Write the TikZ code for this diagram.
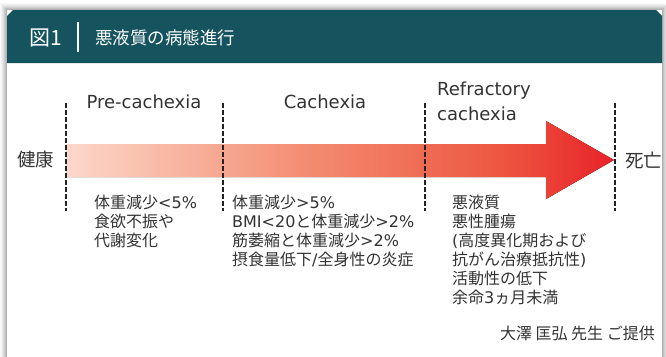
\documentclass[tikz,border=0pt]{standalone}
\usepackage{fontspec}
\setmainfont{Noto Sans CJK JP}
\newfontfamily\latfont{DejaVu Sans}
\newcommand\latx[1]{{\latfont #1}}
\definecolor{teal}{HTML}{15535F}
\definecolor{txt}{HTML}{333333}
\definecolor{dash}{HTML}{222222}
\pgfdeclarehorizontalshading{arrowshade}{100bp}{
  color(0bp)=({rgb,255:red,252;green,216;blue,202});
  color(25bp)=({rgb,255:red,252;green,216;blue,202});
  color(47bp)=({rgb,255:red,243;green,140;blue,112});
  color(65bp)=({rgb,255:red,237;green,85;blue,64});
  color(75bp)=({rgb,255:red,232;green,34;blue,40});
  color(100bp)=({rgb,255:red,232;green,34;blue,40})}
\begin{document}
\begin{tikzpicture}[x=1pt,y=-1pt,
  divider/.style={draw=dash,line width=2.8pt,dash pattern=on 4.5pt off 2.5pt},
  label/.style={text=txt,font=\fontsize{18.5}{20}\selectfont,inner sep=0pt},
  latlabel/.style={text=txt,font=\latfont\fontsize{18}{20}\selectfont,inner sep=0pt},
  body/.style={text=txt,font=\fontsize{16}{19}\selectfont,align=left,anchor=north west,inner sep=0pt},
  head/.style={text=white,inner sep=0pt}]
\useasboundingbox (0,0) rectangle (666,356);
\fill[white] (0,0) rectangle (666,356);
% soft shadow of the card
\foreach \i/\o in {7/0.02,6/0.03,5/0.04,4/0.05,3/0.06,2/0.07,1/0.08}{
  \fill[black,opacity=\o] (7-\i,10-\i) rectangle (662+\i,360);
}
\fill[white] (7,10) rectangle (662,360);
% header
\fill[teal] (7,16) -- (13,10) -- (656,10) -- (662,16) -- (662,63) -- (7,63) -- cycle;
\node[head,font=\fontsize{21}{22}\selectfont,anchor=west] (fig) at (29,37.5) {図1};
\coordinate (bartop) at (78,22);
\coordinate (barbot) at (78,52);
\draw[white,line width=1.5pt] (bartop) -- (barbot);
\node[head,font=\fontsize{17.5}{20}\selectfont,anchor=west] (title) at (95,37.5) {悪液質の病態進行};
% arrow
\fill[shading=arrowshade] (66,144) -- (546,144) -- (546,121) -- (614,160) -- (546,199) -- (546,177) -- (66,177) -- cycle;
% dividers
\foreach \n/\x in {d1/66,d2/223,d3/425,d4/615}{
  \coordinate (\n t) at (\x,103);
  \coordinate (\n b) at (\x,211);
  \draw[divider] (\n t) -- (\n b);
}
% labels
\node[label,anchor=west] (health) at (17,160) {健康};
\node[label,anchor=west] (death) at (625,160) {死亡};
\node[latlabel] (pre) at (144,102) {Pre-cachexia};
\node[latlabel] (cach) at (325,102) {Cachexia};
\node[latlabel,anchor=west] (refr1) at (437,91) {Refractory};
\node[latlabel,anchor=west] (refr2) at (437,114) {cachexia};
% text blocks
\node[body] (b1) at (94,195) {体重減少\latx{<5\%}\\食欲不振や\\代謝変化};
\node[body] (b2) at (232,195) {体重減少\latx{>5\%}\\\latx{BMI<20}と体重減少\latx{>2\%}\\筋萎縮と体重減少\latx{>2\%}\\摂食量低下\latx{/}全身性の炎症};
\node[body] (b3) at (452,195) {悪液質\\悪性腫瘍\\\latx{(}高度異化期および\\抗がん治療抵抗性\latx{)}\\活動性の低下\\余命\latx{3}ヵ月未満};
\node[text=txt,font=\fontsize{16}{19}\selectfont,anchor=east,inner sep=0pt] (credit) at (655,333) {大澤 匡弘 先生 ご提供};
\end{tikzpicture}
\end{document}
